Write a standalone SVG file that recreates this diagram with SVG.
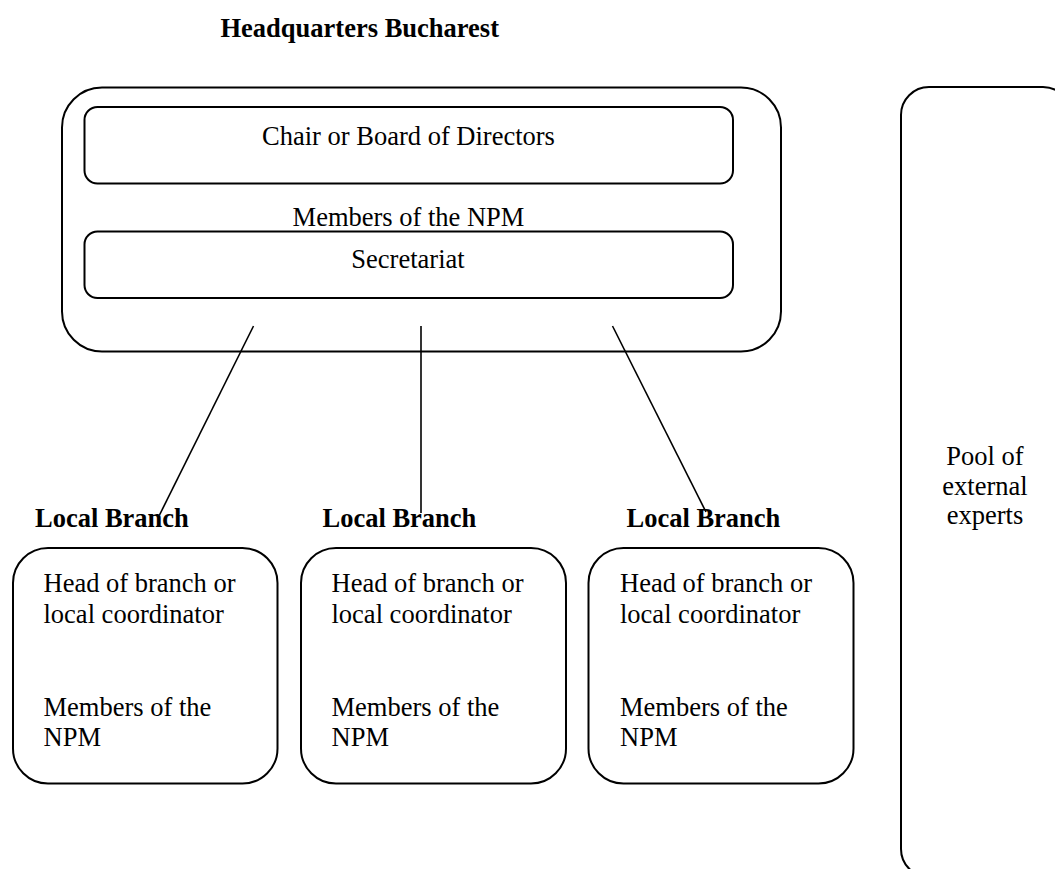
<svg xmlns="http://www.w3.org/2000/svg" width="1055" height="869" viewBox="0 0 1055 869">
<style>
.box{fill:none;stroke:#000;stroke-width:2}
.t{font-family:"Liberation Serif","Times New Roman",serif;font-size:26.5px;fill:#000}
.b{font-weight:bold}
.c{text-anchor:middle}
.ln{stroke:#000;stroke-width:1.6;fill:none}
</style>
<rect width="1055" height="869" fill="#fff"/>
<g id="title"><text class="t b" x="220.5" y="37">Headquarters Bucharest</text></g>
<g id="hq">
<rect class="box" x="62" y="87.5" width="719" height="264" rx="40" ry="40"/>
</g>
<g id="chair">
<rect class="box" x="84.5" y="107" width="648.5" height="76.5" rx="13" ry="13"/>
<text class="t c" x="408.5" y="145">Chair or Board of Directors</text>
</g>
<g id="members-hq"><text class="t c" x="408.5" y="226">Members of the NPM</text></g>
<g id="secretariat">
<rect class="box" x="84.5" y="231.5" width="648.5" height="66.5" rx="13" ry="13"/>
<text class="t c" x="408" y="268">Secretariat</text>
</g>
<g id="pool">
<rect class="box" x="901" y="87" width="170" height="790" rx="28" ry="28"/>
<text class="t c" x="985" y="465">Pool of</text>
<text class="t c" x="985" y="495">external</text>
<text class="t c" x="985" y="524">experts</text>
</g>
<g id="branch1">
<text class="t b" x="35" y="527">Local Branch</text>
<rect class="box" x="13" y="548" width="264.5" height="235.5" rx="35" ry="35"/>
<text class="t" x="43.5" y="592">Head of branch or</text>
<text class="t" x="43.5" y="623">local coordinator</text>
<text class="t" x="43.5" y="715.5">Members of the</text>
<text class="t" x="43.5" y="746">NPM</text>
</g>
<g id="branch2">
<text class="t b" x="322.5" y="527">Local Branch</text>
<rect class="box" x="301" y="548" width="265" height="235.5" rx="35" ry="35"/>
<text class="t" x="331.5" y="592">Head of branch or</text>
<text class="t" x="331.5" y="623">local coordinator</text>
<text class="t" x="331.5" y="715.5">Members of the</text>
<text class="t" x="331.5" y="746">NPM</text>
</g>
<g id="branch3">
<text class="t b" x="626.5" y="527">Local Branch</text>
<rect class="box" x="588.5" y="548" width="265" height="235.5" rx="35" ry="35"/>
<text class="t" x="620" y="592">Head of branch or</text>
<text class="t" x="620" y="623">local coordinator</text>
<text class="t" x="620" y="715.5">Members of the</text>
<text class="t" x="620" y="746">NPM</text>
</g>
<g id="connectors">
<line class="ln" x1="253.5" y1="326" x2="159.5" y2="515"/>
<line class="ln" x1="421" y1="326" x2="421" y2="513"/>
<line class="ln" x1="612.5" y1="326" x2="706" y2="512"/>
</g>
</svg>
